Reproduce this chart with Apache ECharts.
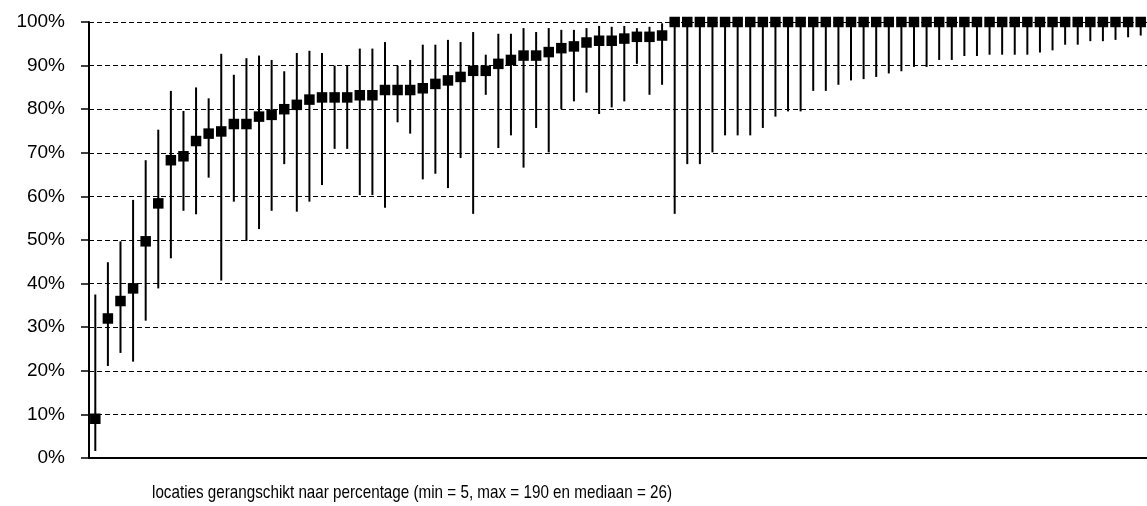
<!DOCTYPE html>
<html><head><meta charset="utf-8">
<script src="https://cdn.jsdelivr.net/npm/echarts@6/dist/echarts.min.js"></script>
<style>html,body{margin:0;padding:0;background:#fff}#c{width:1147px;height:506px}</style>
</head><body><div id="c"></div>
<script>
const categories = ['1','2','3','4','5','6','7','8','9','10','11','12','13','14','15','16','17','18','19','20',
  '21','22','23','24','25','26','27','28','29','30','31','32','33','34','35','36','37','38','39','40',
  '41','42','43','44','45','46','47','48','49','50','51','52','53','54','55','56','57','58','59','60',
  '61','62','63','64','65','66','67','68','69','70','71','72','73','74','75','76','77','78','79','80',
  '81','82','83','84'];
const percentage = [9.0,32.0,36.0,38.9,49.7,58.4,68.3,69.2,72.7,74.4,74.9,76.6,76.6,78.3,78.7,80.0,81.0,82.2,82.7,82.7,
  82.7,83.2,83.2,84.4,84.4,84.4,84.8,85.8,86.6,87.4,88.8,88.8,90.4,91.3,92.3,92.3,93.1,94.0,94.4,95.3,
  95.7,95.7,96.2,96.6,96.6,96.9,100,100,100,100,100,100,100,100,100,100,100,100,100,100,
  100,100,100,100,100,100,100,100,100,100,100,100,100,100,100,100,100,100,100,100,
  100,100,100,100];
const upper = [37.5,44.9,49.7,59.2,68.3,75.3,84.2,79.6,85.0,82.5,92.7,87.9,91.7,92.3,91.3,88.7,92.9,93.4,92.9,90.0,
  90.0,93.9,93.9,95.4,90.0,91.3,94.8,94.8,95.9,95.4,97.7,92.5,97.3,97.3,98.6,97.7,98.6,98.2,98.2,98.6,
  99.1,98.9,99.1,98.6,98.9,99.7,100,100,100,100,100,100,100,100,100,100,100,100,100,100,
  100,100,100,100,100,100,100,100,100,100,100,100,100,100,100,100,100,100,100,100,
  100,100,100,100];
const lower = [1.6,21.1,24.1,22.1,31.5,38.9,45.8,56.7,55.9,64.3,40.7,58.8,49.8,52.5,56.7,67.4,56.5,58.8,62.6,70.9,
  70.9,60.3,60.3,57.4,77.0,74.4,63.9,65.2,61.9,68.8,56.0,83.3,71.1,74.0,66.6,75.7,70.1,80.0,81.8,83.8,
  78.9,80.4,81.8,90.4,83.3,85.6,56.0,67.4,67.4,70.1,74.0,74.0,74.0,75.7,78.3,79.5,79.5,84.2,84.2,85.6,
  86.6,86.9,87.4,88.2,88.7,89.7,89.7,91.3,91.3,92.2,92.2,92.5,92.5,92.5,92.5,93.0,93.5,94.8,94.8,95.6,
  95.6,95.9,96.5,96.9];
const yMin = 0, yMax = 100, yStep = 10;
const xTitle = 'locaties gerangschikt naar percentage (min = 5, max = 190 en mediaan = 26)';

const FONT = '"Liberation Sans", Arial, sans-serif';
const titleSize = 19;
const cv = document.createElement('canvas').getContext('2d');
cv.font = titleSize + 'px ' + FONT;
const titleScale = 520 / cv.measureText(xTitle).width;

const errData = categories.map((c, i) => [i, lower[i], upper[i]]);

const chart = echarts.init(document.getElementById('c'), null, {renderer: 'canvas'});
chart.setOption({
  animation: false,
  backgroundColor: '#fff',
  grid: {left: 89, right: 0, top: 22, bottom: 48, containLabel: false},
  xAxis: {
    type: 'category', data: categories, boundaryGap: true,
    axisLine: {show: true, lineStyle: {color: '#000', width: 2}},
    axisTick: {show: false}, axisLabel: {show: false}, splitLine: {show: false}
  },
  yAxis: {
    type: 'value', min: yMin, max: yMax, interval: yStep,
    axisLine: {show: true, lineStyle: {color: '#000', width: 2}},
    axisTick: {show: true, inside: false, length: 8, lineStyle: {color: '#000', width: 1.5}},
    axisLabel: {formatter: '{value}%', color: '#000', fontSize: 19, fontFamily: FONT, margin: 24},
    splitLine: {show: true, lineStyle: {color: '#000', width: 1, type: [5, 3]}}
  },
  graphic: [{
    type: 'text', x: 152, y: 493, scaleX: titleScale,
    style: {text: xTitle, fontSize: titleSize, fontFamily: FONT, fill: '#000', align: 'left', verticalAlign: 'middle'}
  }],
  series: [{
    type: 'custom', z: 2,
    data: errData,
    encode: {x: 0, y: [1, 2]},
    renderItem: function (params, api) {
      const x = api.value(0);
      const p1 = api.coord([x, api.value(1)]);
      const p2 = api.coord([x, api.value(2)]);
      return {type: 'line', shape: {x1: p1[0], y1: p1[1], x2: p2[0], y2: p2[1]},
        style: {stroke: '#000', lineWidth: 2}};
    }
  }, {
    type: 'scatter', z: 3, data: percentage,
    symbol: 'rect', symbolSize: 10.5,
    itemStyle: {color: '#000', opacity: 1},
    emphasis: {disabled: true}
  }]
});
</script></body></html>
